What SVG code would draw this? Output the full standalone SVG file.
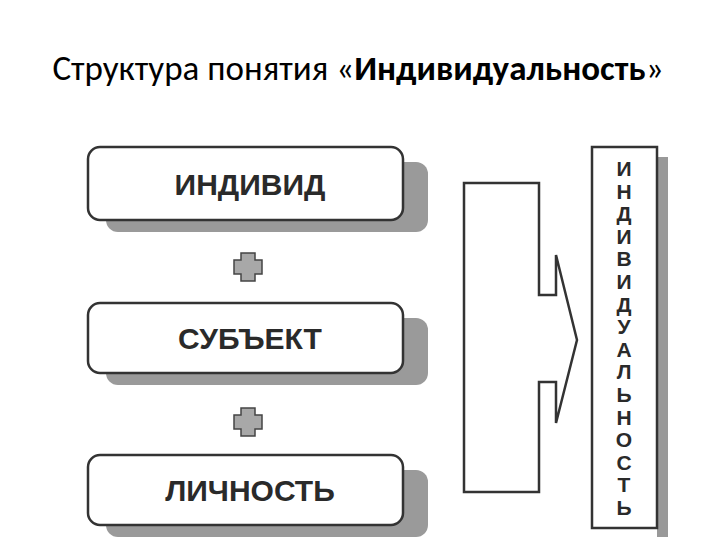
<svg xmlns="http://www.w3.org/2000/svg" width="720" height="540" viewBox="0 0 720 540">
<style>
.box{fill:#fff;stroke:#333;stroke-width:2.5}
.sh{fill:#9a9a9a}
.lbl{font-family:"Liberation Sans",Arial,sans-serif;font-weight:bold;font-size:30px;fill:#2a2a2a;text-anchor:middle}
.plus{fill:#a8a8a8;stroke:#444;stroke-width:1.5}
</style>
<rect width="720" height="540" fill="#fff"/>
<text x="358" y="80" font-family="Calibri,Carlito,'Liberation Sans',sans-serif" font-size="35" text-anchor="middle" fill="#000">Структура понятия «<tspan font-weight="bold">Индивидуальность</tspan>»</text>
<g id="individ">
<rect class="sh" x="106" y="162" width="322" height="70" rx="12"/>
<rect class="box" x="88" y="147" width="315" height="73" rx="12"/>
<text class="lbl" x="250" y="195">ИНДИВИД</text>
</g>
<g id="plus1"><path class="plus" d="M241 253h14v7h7v14h-7v7h-14v-7h-7v-14h7z"/></g>
<g id="subject">
<rect class="sh" x="106" y="318" width="322" height="67" rx="12"/>
<rect class="box" x="88" y="303" width="315" height="70" rx="12"/>
<text class="lbl" x="250" y="349">СУБЪЕКТ</text>
</g>
<g id="plus2"><path class="plus" d="M241 408h14v7h7v14h-7v7h-14v-7h-7v-14h7z"/></g>
<g id="lichnost">
<rect class="sh" x="106" y="470" width="322" height="67" rx="12"/>
<rect class="box" x="88" y="455" width="315" height="70" rx="12"/>
<text class="lbl" x="250" y="501">ЛИЧНОСТЬ</text>
</g>
<g id="connectors">
<path d="M464 183H539V295H556V255L577 340L556 423V382H539V492H464Z" fill="#fff" stroke="#333" stroke-width="2.5"/>
</g>
<g id="individualnost">
<rect x="657" y="157" width="11" height="380" fill="#999"/>
<rect x="592" y="147" width="65" height="381" fill="#fff" stroke="#333" stroke-width="2.5"/>
<text font-family="'Liberation Sans',Arial,sans-serif" font-weight="bold" font-size="21" fill="#2a2a2a" text-anchor="middle">
<tspan x="624" y="176">И</tspan><tspan x="624" dy="22.6">Н</tspan><tspan x="624" dy="22.6">Д</tspan><tspan x="624" dy="22.6">И</tspan><tspan x="624" dy="22.6">В</tspan><tspan x="624" dy="22.6">И</tspan><tspan x="624" dy="22.6">Д</tspan><tspan x="624" dy="22.6">У</tspan><tspan x="624" dy="22.6">А</tspan><tspan x="624" dy="22.6">Л</tspan><tspan x="624" dy="22.6">Ь</tspan><tspan x="624" dy="22.6">Н</tspan><tspan x="624" dy="22.6">О</tspan><tspan x="624" dy="22.6">С</tspan><tspan x="624" dy="22.6">Т</tspan><tspan x="624" dy="22.6">Ь</tspan>
</text>
</g>
</svg>
